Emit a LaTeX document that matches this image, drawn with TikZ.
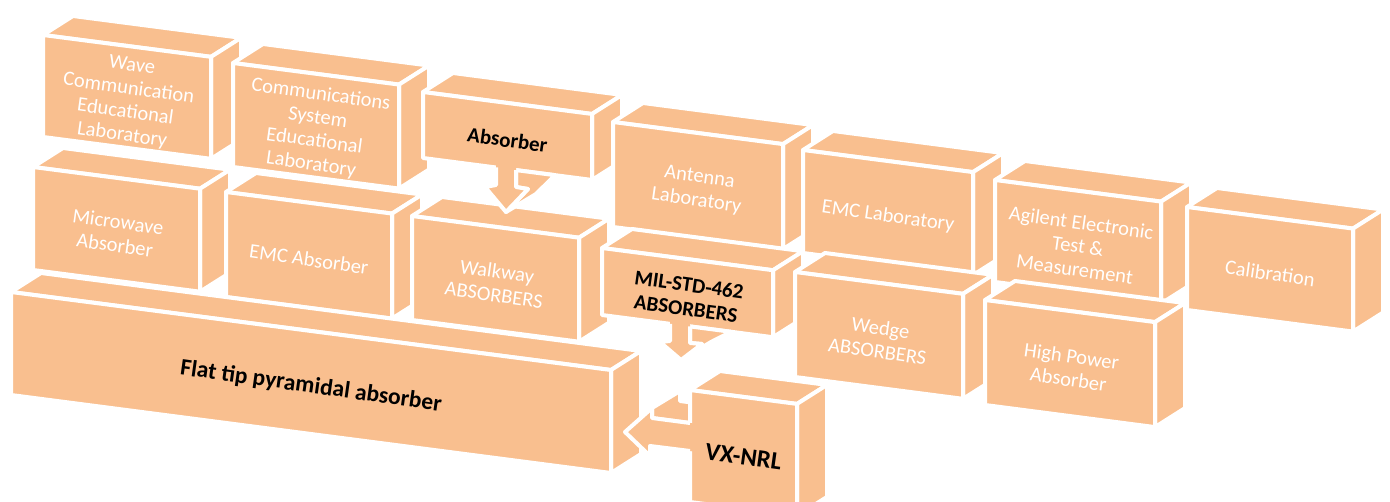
\documentclass[tikz,border=0pt]{standalone}
\usepackage{fontspec}
\setmainfont{Carlito}
\definecolor{org}{RGB}{249,191,143}
\tikzset{
  face/.style={fill=org, draw=white, line width=4pt, line join=round},
  edge/.style={draw=white, line width=4pt, line join=round},
  lt/.style={text=white, font=\fontsize{20.5}{23.5}\selectfont, align=center, rotate=-8, inner sep=0pt},
  bd/.style={text=black, font=\fontsize{21}{24}\selectfont\bfseries, align=center, rotate=-8, inner sep=0pt},
}
\def\slp{0.13}\def\dpx{30}\def\dpy{19}
\newcommand{\cub}[7]{%
  \pgfmathsetmacro{\bxA}{#1}%
  \pgfmathsetmacro{\byA}{#2}%
  \pgfmathsetmacro{\bxB}{#1+#3}%
  \pgfmathsetmacro{\byB}{#2+\slp*#3}%
  \pgfmathsetmacro{\bhh}{#4}%
  \draw[face] (\bxA,\byA) -- (\bxB,\byB) -- (\bxB+\dpx,\byB-\dpy) -- (\bxA+\dpx,\byA-\dpy) -- cycle;
  \draw[face] (\bxB,\byB) -- (\bxB+\dpx,\byB-\dpy) -- (\bxB+\dpx,\byB-\dpy+\bhh) -- (\bxB,\byB+\bhh) -- cycle;
  \draw[face] (\bxA,\byA) -- (\bxB,\byB) -- (\bxB,\byB+\bhh) -- (\bxA,\byA+\bhh) -- cycle;
  \node[#6] (#5) at ({(\bxA+\bxB)/2},{(\byA+\byB)/2+\bhh/2+4}) {#7};
}
\begin{document}
\begin{tikzpicture}[x=1pt,y=-1pt]
\path[fill=white, use as bounding box] (0,0) rectangle (1390,502);
% row 1
\cub{43}{35}{168}{102}{wave}{lt}{Wave\\Communication\\Educational\\Laboratory}
\cub{233}{63}{166}{104}{comsys}{lt}{Communications\\System\\Educational\\Laboratory}
\cub{423}{92}{169}{66}{absorber}{bd}{Absorber}
\cub{613}{122}{170}{105}{antenna}{lt}{Antenna\\Laboratory}
\cub{803}{150}{170}{103}{emclab}{lt}{EMC Laboratory}
\cub{995}{180}{166}{102}{agilent}{lt}{Agilent Electronic\\Test \&\\Measurement}
\cub{1187}{207}{166}{103}{calib}{lt}{Calibration}
% row 2
\cub{33}{167}{167}{103}{microwave}{lt}{Microwave\\Absorber}
\cub{226}{192}{166}{105}{emcabs}{lt}{EMC Absorber}
\cub{412}{216}{167}{104}{walkway}{lt}{Walkway\\ABSORBERS}
\cub{602}{248}{171}{67}{mil}{bd}{MIL-STD-462\\ABSORBERS}
\cub{795}{272}{168}{105}{wedge}{lt}{Wedge\\ABSORBERS}
\cub{985}{300}{170}{105}{highpower}{lt}{High Power\\Absorber}
% Absorber callout arrow
\draw[face] (516,170.1) -- (555,175.2) -- (536,194) -- (506,212) -- (528,189) -- (516,187) -- cycle;
\fill[org] (496,158) -- (496,185) -- (485,187) -- (506,212) -- (528,189) -- (516,187) -- (516,160) -- cycle;
\draw[edge] (496,167.5) -- (496,185) -- (485,187) -- (506,212) -- (528,189) -- (516,187) -- (516,170.1);
% MIL callout arrow
\draw[face] (690,326.4) -- (731,331.8) -- (711,342) -- (681,360) -- (702,344) -- (690,343) -- cycle;
\fill[org] (670,314) -- (670,341) -- (660,342) -- (681,360) -- (702,344) -- (690,343) -- (690,316) -- cycle;
\draw[edge] (670,323.8) -- (670,341) -- (660,342) -- (681,360) -- (702,344) -- (690,343) -- (690,326.4);
% row 3
\cub{11}{292}{600}{103}{flattip}{bd, font=\fontsize{23.5}{27}\selectfont\bfseries}{Flat tip pyramidal absorber}
\draw[face] (652,408) -- (680,391) -- (680,401) -- (690,402.3) -- (690,423) -- (652,418) -- cycle;
\cub{690}{390}{107}{112}{vxnrl}{bd, font=\fontsize{25}{30}\selectfont\bfseries}{VX-NRL}
\fill[org] (700,424.3) -- (652,418) -- (652,408) -- (625,432) -- (650,456) -- (650,446) -- (700,452.3) -- cycle;
\draw[edge] (690,423) -- (652,418) -- (652,408) -- (625,432) -- (650,456) -- (650,446) -- (690,451);
\end{tikzpicture}
\end{document}
